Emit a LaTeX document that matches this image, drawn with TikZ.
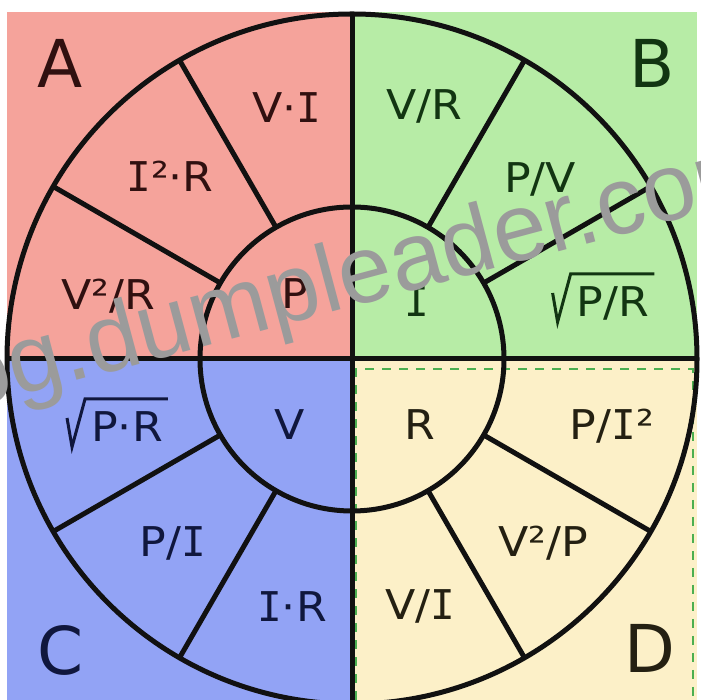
\documentclass[tikz,border=0pt]{standalone}
\usepackage{fontspec}
\setmainfont{DejaVu Sans}[FakeStretch=1.08]
\newfontfamily\bigfont{DejaVu Sans}
\newfontfamily\wmfont{Liberation Sans}
\newfontfamily\monoIfont{DejaVu Sans Mono}
\newcommand\Iv{{\monoIfont I}}
\usetikzlibrary{calc}
\definecolor{qa}{HTML}{F5A39B}
\definecolor{qb}{HTML}{B7ECA6}
\definecolor{qc}{HTML}{92A3F5}
\definecolor{qd}{HTML}{FCF0C8}
\definecolor{ta}{HTML}{301010}
\definecolor{tb}{HTML}{123512}
\definecolor{tc}{HTML}{10173D}
\definecolor{td}{HTML}{242012}
\definecolor{ink}{HTML}{111111}
\definecolor{wm}{HTML}{9B9B9B}
\definecolor{selgreen}{HTML}{4CAF50}
\begin{document}
\begin{tikzpicture}[x=1pt,y=1pt,
  lbl/.style={anchor=base, inner sep=0pt, font=\fontsize{41}{41}\selectfont},
  big/.style={anchor=base, inner sep=0pt, font=\bigfont\fontsize{66}{66}\selectfont},
  divider/.style={line width=5pt, draw=ink},
  ring/.style={circle, draw=ink, line width=5pt, inner sep=0pt, outer sep=0pt},
  rad/.style={line width=3pt, line join=miter, line cap=butt},
  selbox/.style={draw=selgreen, line width=2pt, dash pattern=on 9pt off 8pt}
]
\useasboundingbox (0,0) rectangle (701,700);
\fill[white] (0,0) rectangle (701,700);
% quadrant fills
\fill[qa] (7,341) rectangle (352,688);
\fill[qb] (352,341) rectangle (697,688);
\fill[qc] (7,0) rectangle (352,341);
\fill[qd] (352,0) rectangle (697,341);
% selection box in D
\draw[selbox] (356,0) -- (356,331) -- (693,331) -- (693,0);
% rings
\coordinate (O) at (352,341);
\node[ring, minimum size=690pt] (outer) at (O) {};
\node[ring, minimum size=304pt] (inner) at (O) {};
% axes
\coordinate (Tp) at (352,688);
\coordinate (Bm) at (352,0);
\coordinate (Lf) at (7,341);
\coordinate (Rg) at (697,341);
\draw[divider] (Tp) -- (Bm);
\draw[divider] (Lf) -- (Rg);
% sector dividers
\foreach \a in {30,60,120,150,210,240,300,330}
  \draw[divider] (inner.\a) -- (outer.\a);
% big letters
\node[big, text=ta] (lA) at (60,612) {A};
\node[big, text=tb] (lB) at (652,612) {B};
\node[big, text=tc] (lC) at (61,25) {C};
\node[big, text=td] (lD) at (650,27) {D};
% quadrant A
\node[lbl, text=ta] (a1) at (287,577) {V·\Iv};
\node[lbl, text=ta] (a2) at (170,508) {\Iv²·R};
\node[lbl, text=ta] (a3) at (108,390) {V²/R};
\node[lbl, text=ta] (a0) at (295,391) {P};
% quadrant B
\node[lbl, text=tb] (b1) at (424,580) {V/R};
\node[lbl, text=tb] (b2) at (540,507) {P/V};
\node[lbl, text=tb] (b0) at (417,383) {\Iv};
\node[lbl, text=tb] (b3) at (613,383) {P/R};
\draw[rad, draw=tb] ($(b3.base west)+(-24,24)$) -- ($(b3.base west)+(-19,-5)$) -- ($(b3.base west)+(-6,43)$) -- ($(b3.base east)+(5,43)$);
% quadrant C
\node[lbl, text=tc] (c1) at (127,258) {P·R};
\draw[rad, draw=tc] ($(c1.base west)+(-24,24)$) -- ($(c1.base west)+(-19,-5)$) -- ($(c1.base west)+(-6,43)$) -- ($(c1.base east)+(5,43)$);
\node[lbl, text=tc] (c0) at (290,260) {V};
\node[lbl, text=tc] (c2) at (173,143) {P/\Iv};
\node[lbl, text=tc] (c3) at (292,78) {\Iv·R};
% quadrant D
\node[lbl, text=td] (d0) at (420,260) {R};
\node[lbl, text=td] (d1) at (612,260) {P/\Iv²};
\node[lbl, text=td] (d2) at (543,143) {V²/P};
\node[lbl, text=td] (d3) at (420,80) {V/\Iv};
% watermark
\begin{scope}
\clip (0,0) rectangle (701,700);
\node[anchor=base west, rotate=15, inner sep=0pt, text=wm, font=\wmfont\fontsize{96}{96}\selectfont] (wmark) at (-107,270) {blog.dumpleader.com};
\end{scope}
\end{tikzpicture}
\end{document}
